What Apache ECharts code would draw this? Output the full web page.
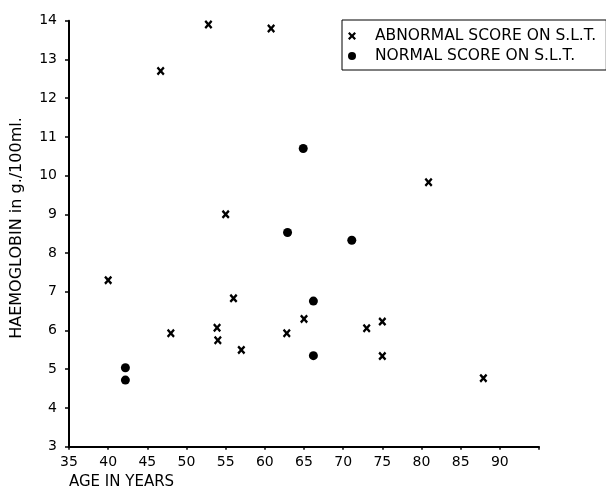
<!DOCTYPE html>
<html>
<head>
<meta charset="utf-8">
<script src="https://cdn.jsdelivr.net/npm/echarts@6/dist/echarts.min.js"></script>
<style>
  html, body { margin: 0; padding: 0; background: #fff; }
  #chart { width: 606px; height: 489px; }
</style>
</head>
<body>
<div id="chart"></div>
<script>
// Abnormal score on S.L.T. (crosses)
var abnormalAge = [40, 46.7, 48, 52.8, 53.9, 54, 55, 56, 57, 60.8, 62.8, 65, 73, 75, 75, 80.9, 87.9];
var abnormalHb  = [7.3, 12.7, 5.93, 13.9, 6.07, 5.75, 9.0, 6.83, 5.5, 13.8, 5.93, 6.3, 6.06, 6.23, 5.34, 9.83, 4.77];
// Normal score on S.L.T. (dots)
var normalAge = [42.2, 42.2, 62.9, 64.9, 66.2, 66.2, 71.1];
var normalHb  = [5.04, 4.72, 8.53, 10.7, 6.76, 5.35, 8.33];

var xTicks = [35, 40, 45, 50, 55, 60, 65, 70, 75, 80, 85, 90];
var yTicks = [3, 4, 5, 6, 7, 8, 9, 10, 11, 12, 13, 14];

var seriesNames = ['ABNORMAL SCORE ON S.L.T.', 'NORMAL SCORE ON S.L.T.'];
var xTitle = 'AGE IN YEARS';
var yTitle = 'HAEMOGLOBIN in g./100ml.';

function zip(a, b) { return a.map(function (v, i) { return [v, b[i]]; }); }

var crossPath = 'path://M0,2 L2,0 L5,3 L8,0 L10,2 L7,5 L10,8 L8,10 L5,7 L2,10 L0,8 L3,5 Z';
var FONT = 'DejaVu Sans';

var chart = echarts.init(document.getElementById('chart'), null, { renderer: 'canvas' });
chart.setOption({
  backgroundColor: '#fff',
  animation: false,
  textStyle: { fontFamily: FONT, color: '#000' },
  grid: { left: 69, right: 67, top: 20.7, bottom: 42.3, containLabel: false },
  xAxis: {
    type: 'value',
    min: 35, max: 95, interval: 5,
    axisLine: { lineStyle: { color: '#000', width: 2 } },
    axisTick: { show: true, inside: false, length: 3, lineStyle: { color: '#000', width: 1.5 } },
    axisLabel: {
      margin: 9, fontSize: 14, color: '#000', fontFamily: FONT,
      formatter: function (v) { return xTicks.indexOf(v) >= 0 ? String(v) : ''; }
    },
    splitLine: { show: false }
  },
  yAxis: {
    type: 'value',
    min: 3, max: 14, interval: 1,
    axisLine: { show: true, lineStyle: { color: '#000', width: 2 } },
    axisTick: { show: true, inside: false, length: 4, lineStyle: { color: '#000', width: 1.5 } },
    axisLabel: {
      margin: 12, fontSize: 14, color: '#000', fontFamily: FONT,
      formatter: function (v) { return yTicks.indexOf(v) >= 0 ? String(v) : ''; }
    },
    splitLine: { show: false }
  },
  legend: {
    orient: 'vertical',
    left: 342, top: 20,
    padding: [8, 10, 6, 6],
    itemGap: 4,
    itemWidth: 8, itemHeight: 8,
    borderColor: '#000', borderWidth: 1,
    textStyle: { fontFamily: FONT, fontSize: 15.5, color: '#000', padding: [0, 0, 0, 14] },
    data: [
      { name: seriesNames[0], icon: crossPath },
      { name: seriesNames[1], icon: 'circle' }
    ]
  },
  graphic: [
    {
      type: 'text',
      x: 17, y: 228,
      rotation: Math.PI / 2,
      style: { text: yTitle, fill: '#000', font: '16px ' + FONT, align: 'center', verticalAlign: 'middle' }
    },
    {
      type: 'text',
      x: 69, y: 475,
      style: { text: xTitle, fill: '#000', font: '15px ' + FONT, align: 'left', verticalAlign: 'top' }
    }
  ],
  series: [
    {
      name: seriesNames[0],
      type: 'scatter',
      symbol: crossPath,
      symbolSize: [8, 9],
      itemStyle: { color: '#000', opacity: 1 },
      data: zip(abnormalAge, abnormalHb)
    },
    {
      name: seriesNames[1],
      type: 'scatter',
      symbol: 'circle',
      symbolSize: 9,
      itemStyle: { color: '#000', opacity: 1 },
      data: zip(normalAge, normalHb)
    }
  ]
});
</script>
</body>
</html>
